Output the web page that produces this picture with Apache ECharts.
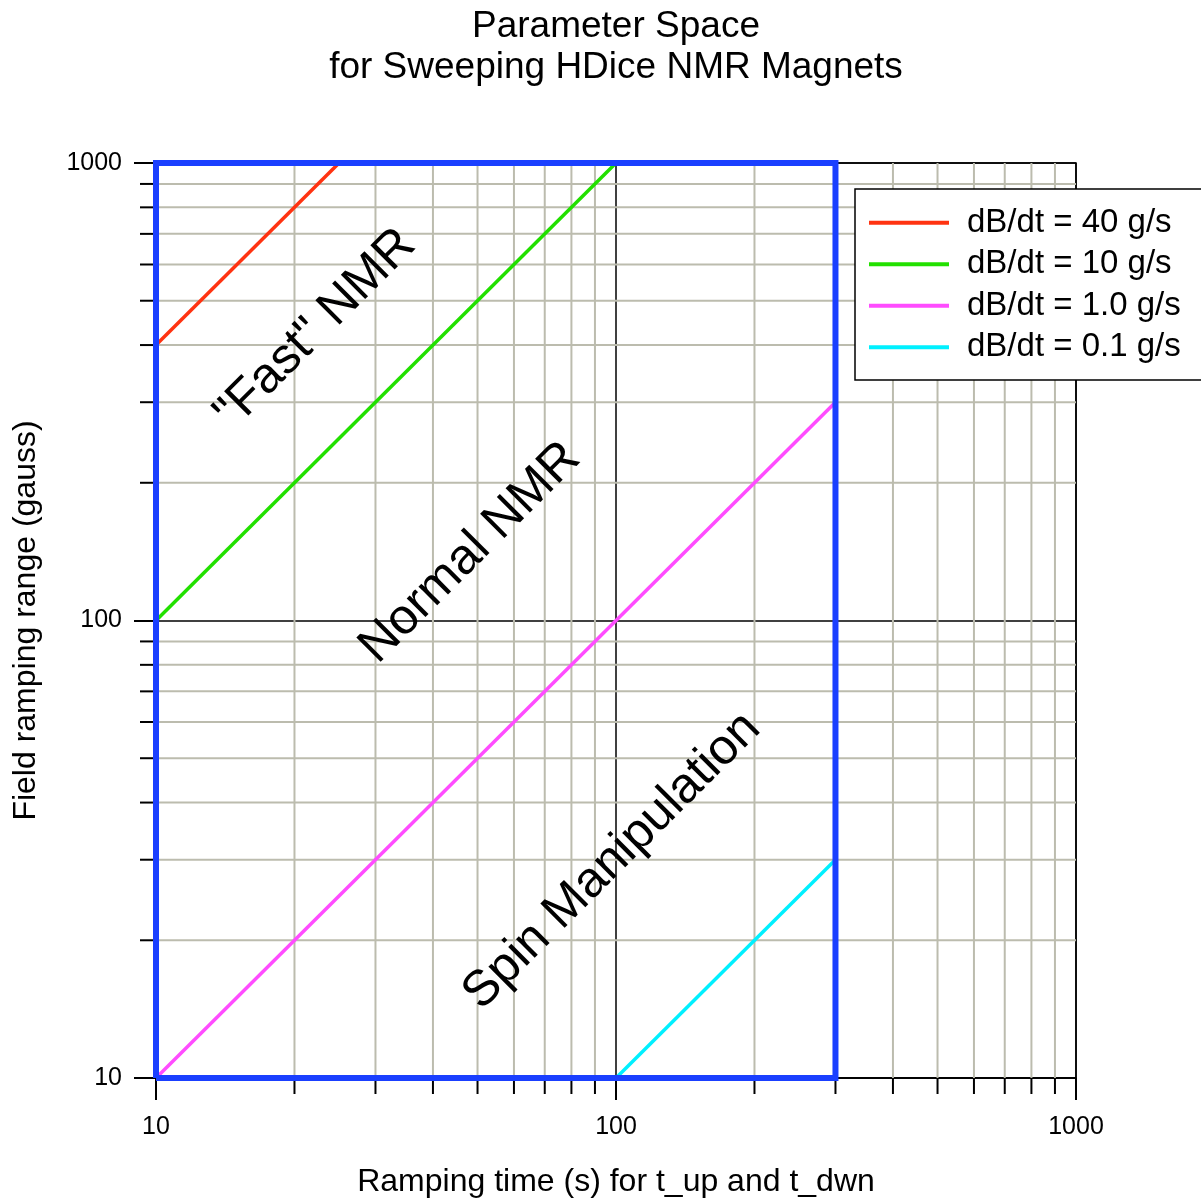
<!DOCTYPE html>
<html><head><meta charset="utf-8">
<script src="https://cdn.jsdelivr.net/npm/echarts@6/dist/echarts.min.js"></script>
<style>html,body{margin:0;padding:0;background:#fff;overflow:hidden}#c{width:1201px;height:1203px}</style>
</head><body><div id="c"></div>
<script>
// ---- data ----
const titleText = 'Parameter Space\nfor Sweeping HDice NMR Magnets';
const xName = 'Ramping time (s) for t_up and t_dwn';
const yName = 'Field ramping range (gauss)';
const xMin = 10, xMax = 1000, yMin = 10, yMax = 1000;
const minorValues = [20,30,40,50,60,70,80,90,200,300,400,500,600,700,800,900];
const seriesNames = ['dB/dt = 40 g/s','dB/dt = 10 g/s','dB/dt = 1.0 g/s','dB/dt = 0.1 g/s'];
const rate40 = [[10,400],[25,1000]];
const rate10 = [[10,100],[100,1000]];
const rate1 = [[10,10],[300,300]];
const rate01 = [[100,10],[300,30]];
const regionBox = [[10,10],[10,1000],[300,1000],[300,10],[10,10]];
const annotationTexts = ['"Fast" NMR','Normal NMR','Spin Manipulation'];
const annotationPoints = [[22.2,433],[48.2,140.6],[98,29.8]];

const colors = ['#ff3311','#22e000','#ff4cff','#00f0ff'];
const FONT = 'Liberation Sans, Arial, sans-serif';

const chart = echarts.init(document.getElementById('c'), null, {renderer:'canvas', width:1201, height:1203});

function minorRender(isX){
  return function(params, api){
    let p1, p2, t2;
    if (isX){
      const v = api.value(0);
      p1 = api.coord([v, yMin]); p2 = api.coord([v, yMax]);
      t2 = [p1[0], p1[1] + 16];
    } else {
      const v = api.value(1);
      p1 = api.coord([xMin, v]); p2 = api.coord([xMax, v]);
      t2 = [p1[0] - 16, p1[1]];
    }
    return {type:'group', children:[
      {type:'line', shape:{x1:p1[0],y1:p1[1],x2:p2[0],y2:p2[1]}, style:{stroke:'#bcbcae', lineWidth:2}},
      {type:'line', shape:{x1:p1[0],y1:p1[1],x2:t2[0],y2:t2[1]}, style:{stroke:'#000', lineWidth:2}}
    ]};
  };
}

const lineData = [rate40, rate10, rate1, rate01];
const lineSeries = lineData.map((d,i)=>({
  name: seriesNames[i], type:'line', data:d, symbol:'none', showSymbol:false,
  lineStyle:{color:colors[i], width:3.5}, itemStyle:{color:colors[i]}, z:4, silent:true
}));

chart.setOption({
  animation:false,
  backgroundColor:'#fff',
  textStyle:{fontFamily:FONT},
  title:{text:titleText, left:616, textAlign:'center', top:6, padding:0,
    textStyle:{fontFamily:FONT, fontSize:37, fontWeight:'normal', lineHeight:41, color:'#000'}},
  grid:{left:156, top:163, width:920, height:920, show:true, borderColor:'#000', borderWidth:1.5, backgroundColor:'transparent'},
  legend:{
    data:seriesNames.map(n=>({name:n, icon:'rect'})), orient:'vertical', left:855, top:189,
    padding:[13,60,12,14], itemGap:0, itemWidth:80, itemHeight:4,
    backgroundColor:'#fff', borderColor:'#000', borderWidth:1.5, borderRadius:0,
    textStyle:{fontFamily:FONT, fontSize:33, color:'#000', lineHeight:41.5, padding:[0,0,0,13]}
  },
  xAxis:{type:'log', logBase:10, min:xMin, max:xMax, interval:1,
    name:xName, nameLocation:'middle', nameGap:88,
    nameTextStyle:{fontFamily:FONT, fontSize:32, color:'#000'},
    axisLine:{show:true, lineStyle:{color:'#000', width:1.5}},
    axisTick:{show:true, inside:false, length:22, lineStyle:{color:'#000', width:2}},
    axisLabel:{fontFamily:FONT, fontSize:25, color:'#000', margin:37, formatter:v=>String(v)},
    splitLine:{show:true, lineStyle:{color:'#000', width:1.5}},
    minorTick:{show:false}, minorSplitLine:{show:false}},
  yAxis:{type:'log', logBase:10, min:yMin, max:yMax, interval:1,
    name:yName, nameLocation:'middle', nameGap:114,
    nameTextStyle:{fontFamily:FONT, fontSize:32, color:'#000'},
    axisLine:{show:true, lineStyle:{color:'#000', width:1.5}},
    axisTick:{show:true, inside:false, length:22, lineStyle:{color:'#000', width:2}},
    axisLabel:{fontFamily:FONT, fontSize:25, color:'#000', margin:34, formatter:v=>String(v)},
    splitLine:{show:true, lineStyle:{color:'#000', width:1.5}},
    minorTick:{show:false}, minorSplitLine:{show:false}},
  series:[
    {type:'custom', name:'minorX', data:minorValues.map(v=>[v, yMin]), renderItem:minorRender(true), z:1, silent:true, clip:false},
    {type:'custom', name:'minorY', data:minorValues.map(v=>[xMin, v]), renderItem:minorRender(false), z:1, silent:true, clip:false},
    ...lineSeries,
    {type:'line', name:'region', data:regionBox, symbol:'none', lineStyle:{color:'#1a3fff', width:6, join:'miter'}, z:5, silent:true},
    {type:'scatter', name:'notes', data:annotationPoints.map((p,i)=>({value:p, name:annotationTexts[i]})),
      symbolSize:0, z:6, silent:true, itemStyle:{color:'#000', opacity:1},
      label:{show:true, position:'inside', formatter:p=>p.name, rotate:45,
        fontFamily:FONT, fontSize:50, color:'#000', opacity:1, textBorderWidth:0}}
  ]
});
</script></body></html>
